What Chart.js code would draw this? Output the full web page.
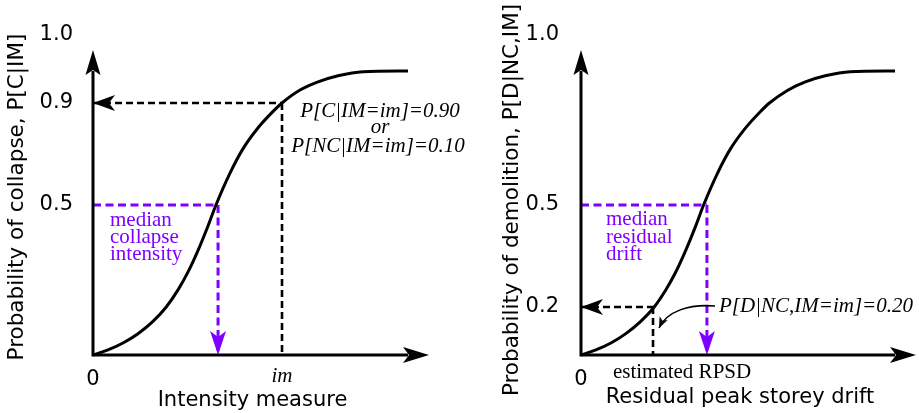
<!DOCTYPE html>
<html>
<head>
<meta charset="utf-8">
<script src="https://cdn.jsdelivr.net/npm/chart.js@4.4.1/dist/chart.umd.min.js"></script>
<style>
  html, body { margin: 0; padding: 0; background: #ffffff; }
  #wrap { position: relative; width: 919px; height: 413px; overflow: hidden; }
  canvas { position: absolute; top: 0; }
</style>
</head>
<body>
<div id="wrap">
  <canvas id="c2" width="459" height="413" style="left:460px; z-index:1"></canvas>
  <canvas id="c1" width="480" height="413" style="left:0px; z-index:2"></canvas>
</div>
<script>
// ---------------- data ----------------
const curveX = [0, 0.094, 0.188, 0.282, 0.376, 0.458, 0.533, 0.596, 0.658, 0.721, 0.771, 0.859, 0.940, 1.034, 1.129, 1.185, 1.298, 1.411, 1.536, 1.693, 1.975];
const collapseProb = [0, 0.017, 0.040, 0.071, 0.112, 0.159, 0.217, 0.277, 0.348, 0.430, 0.500, 0.625, 0.720, 0.802, 0.867, 0.900, 0.919, 0.931, 0.940, 0.946, 0.947];
const demolitionProb = [0, 0.021, 0.050, 0.089, 0.140, 0.198, 0.250, 0.303, 0.366, 0.438, 0.500, 0.594, 0.665, 0.726, 0.775, 0.800, 0.837, 0.862, 0.880, 0.892, 0.894];

const collapseYTicks = [0.5, 0.9, 1.0];
const collapseYLabels = ['0.5', '0.9', '1.0'];
const demolitionYTicks = [0.2, 0.5, 1.0];
const demolitionYLabels = ['0.2', '0.5', '1.0'];

const imValue = 1.185;        // intensity "im"
const pCollapseAtIM = 0.9;
const medianIM = 0.784;       // median collapse intensity
const collapseXTicks = [0, imValue];
const collapseXLabels = ['0', 'im'];

const estRPSD = 0.453;        // estimated residual drift
const pDemolition = 0.2;
const medianRPSD = 0.792;     // median residual drift
const demolitionXTicks = [0];
const demolitionXLabels = ['0'];

// ---------------- styling / layout ----------------
const PURPLE = '#8000ff';
const SANS = '"DejaVu Sans", Verdana, sans-serif';
const SERIF = '"Liberation Serif", "Times New Roman", serif';

// schematic (non-uniform) probability axis: value -> fraction of axis height
const BREAKS = {
  c1: { values: [0, 0.5, 0.9, 1.0], fractions: [0, 0.46875, 0.7875, 1] },
  c2: { values: [0, 0.2, 0.5, 1.0], fractions: [0, 0.15, 0.46875, 1] }
};

class PiecewiseScale extends Chart.LinearScale {
  _bp() { return BREAKS[this.chart.canvas.id]; }
  _toFrac(v) {
    const { values: V, fractions: F } = this._bp();
    let i = 1;
    while (i < V.length - 1 && v > V[i]) i++;
    return F[i - 1] + (v - V[i - 1]) * (F[i] - F[i - 1]) / (V[i] - V[i - 1]);
  }
  _fromFrac(f) {
    const { values: V, fractions: F } = this._bp();
    let i = 1;
    while (i < F.length - 1 && f > F[i]) i++;
    return V[i - 1] + (f - F[i - 1]) * (V[i] - V[i - 1]) / (F[i] - F[i - 1]);
  }
  getPixelForValue(v) {
    if (v === null || v === undefined || isNaN(v)) return NaN;
    return this.getPixelForDecimal(this._toFrac(v));
  }
  getValueForPixel(p) {
    return this._fromFrac(this.getDecimalForPixel(p));
  }
}
PiecewiseScale.id = 'piecewise';
PiecewiseScale.defaults = Chart.LinearScale.defaults;
Chart.register(PiecewiseScale);

Chart.defaults.font.family = SANS;
Chart.defaults.color = '#000';

function arrowHead(ctx, tx, ty, ang, L, W, N, color) {
  const c = Math.cos(ang), s = Math.sin(ang);
  const bx = tx - L * c, by = ty - L * s;
  const nx = tx - (L - N) * c, ny = ty - (L - N) * s;
  ctx.beginPath();
  ctx.moveTo(tx, ty);
  ctx.lineTo(bx - W * s, by + W * c);
  ctx.lineTo(nx, ny);
  ctx.lineTo(bx + W * s, by - W * c);
  ctx.closePath();
  ctx.fillStyle = color;
  ctx.fill();
}

const DIAGRAM = {
  c1: {
    yTitle: { text: 'Probability of collapse, P[C|IM]', x: 17, y: 197 },
    heads: [
      { from: { x: imValue, y: pCollapseAtIM }, to: { x: 0, y: pCollapseAtIM }, color: '#000', L: 22, W: 8, N: 6 },
      { from: { x: medianIM, y: 0.5 }, to: { x: medianIM, y: 0 }, color: PURPLE, L: 24, W: 8, N: 6 }
    ],
    texts: [
      { text: 'P[C|IM=im]=0.90', at: { x: imValue, y: pCollapseAtIM }, dx: 98, dy: 14, font: 'italic 21px ' + SERIF, color: '#000', align: 'center' },
      { text: 'or', at: { x: imValue, y: pCollapseAtIM }, dx: 98, dy: 30, font: 'italic 21px ' + SERIF, color: '#000', align: 'center' },
      { text: 'P[NC|IM=im]=0.10', at: { x: imValue, y: pCollapseAtIM }, dx: 96, dy: 49, font: 'italic 21px ' + SERIF, color: '#000', align: 'center' },
      { text: 'median', at: { x: 0, y: 0.5 }, dx: 17, dy: 21, font: '21px ' + SERIF, color: PURPLE, align: 'left' },
      { text: 'collapse', at: { x: 0, y: 0.5 }, dx: 17, dy: 38, font: '21px ' + SERIF, color: PURPLE, align: 'left' },
      { text: 'intensity', at: { x: 0, y: 0.5 }, dx: 17, dy: 55, font: '21px ' + SERIF, color: PURPLE, align: 'left' }
    ],
    curved: null
  },
  c2: {
    yTitle: { text: 'Probability of demolition, P[D|NC,IM]', x: 52, y: 200 },
    heads: [
      { from: { x: estRPSD, y: pDemolition }, to: { x: 0, y: pDemolition }, color: '#000', L: 22, W: 8, N: 6 },
      { from: { x: medianRPSD, y: 0.5 }, to: { x: medianRPSD, y: 0 }, color: PURPLE, L: 24, W: 8, N: 6 }
    ],
    texts: [
      { text: 'P[D|NC,IM=im]=0.20', at: { x: estRPSD, y: pDemolition }, dx: 66, dy: 5, font: 'italic 21px ' + SERIF, color: '#000', align: 'left' },
      { text: 'estimated RPSD', at: { x: estRPSD, y: 0 }, dx: 29, dy: 23, font: '21px ' + SERIF, color: '#000', align: 'center' },
      { text: 'median', at: { x: 0, y: 0.5 }, dx: 25, dy: 20, font: '21px ' + SERIF, color: PURPLE, align: 'left' },
      { text: 'residual', at: { x: 0, y: 0.5 }, dx: 25, dy: 37.5, font: '21px ' + SERIF, color: PURPLE, align: 'left' },
      { text: 'drift', at: { x: 0, y: 0.5 }, dx: 25, dy: 55, font: '21px ' + SERIF, color: PURPLE, align: 'left' }
    ],
    curved: { at: { x: estRPSD, y: pDemolition }, p0: [62, -1], c1: [36, -3], c2: [14, 4], p1: [6, 21] }
  }
};

const diagramPlugin = {
  id: 'diagram',
  afterDatasetsDraw(chart) {
    const d = DIAGRAM[chart.canvas.id];
    const { ctx, chartArea: a } = chart;
    const xs = chart.scales.x, ys = chart.scales.y;
    const px = v => xs.getPixelForValue(v), py = v => ys.getPixelForValue(v);
    ctx.save();

    // arrowheads at the ends of the dashed guide lines
    d.heads.forEach(h => {
      const tx = px(h.to.x), ty = py(h.to.y), fx = px(h.from.x), fy = py(h.from.y);
      arrowHead(ctx, tx, ty, Math.atan2(ty - fy, tx - fx), h.L, h.W, h.N, h.color);
    });

    // axes with arrows
    const ox = px(0), oy = py(0);
    const yTip = a.top + 15, xTip = a.right + 17;
    ctx.strokeStyle = '#000';
    ctx.lineWidth = 3;
    ctx.lineJoin = 'miter';
    ctx.lineCap = 'butt';
    ctx.setLineDash([]);
    ctx.beginPath();
    ctx.moveTo(ox, yTip + 21);
    ctx.lineTo(ox, oy);
    ctx.lineTo(xTip - 21, oy);
    ctx.stroke();
    arrowHead(ctx, ox, yTip, -Math.PI / 2, 25, 7.5, 5, '#000');
    arrowHead(ctx, xTip, oy, 0, 26, 8, 6, '#000');

    // rotated y-axis title
    ctx.save();
    ctx.translate(d.yTitle.x, d.yTitle.y);
    ctx.rotate(-Math.PI / 2);
    ctx.font = '21.5px ' + SANS;
    ctx.fillStyle = '#000';
    ctx.textAlign = 'center';
    ctx.textBaseline = 'middle';
    ctx.fillText(d.yTitle.text, 0, 0);
    ctx.restore();

    // annotations
    d.texts.forEach(t => {
      ctx.font = t.font;
      ctx.fillStyle = t.color;
      ctx.textAlign = t.align;
      ctx.textBaseline = 'alphabetic';
      ctx.fillText(t.text, px(t.at.x) + t.dx, py(t.at.y) + t.dy);
    });

    // curved pointer arrow
    if (d.curved) {
      const c = d.curved, bx = px(c.at.x), by = py(c.at.y);
      ctx.beginPath();
      ctx.moveTo(bx + c.p0[0], by + c.p0[1]);
      ctx.bezierCurveTo(bx + c.c1[0], by + c.c1[1], bx + c.c2[0], by + c.c2[1], bx + c.p1[0], by + c.p1[1]);
      ctx.lineWidth = 1.6;
      ctx.strokeStyle = '#000';
      ctx.stroke();
      const ang = Math.atan2(c.p1[1] - c.c2[1], c.p1[0] - c.c2[0]);
      arrowHead(ctx, bx + c.p1[0], by + c.p1[1], ang, 11, 4.5, 3, '#000');
    }
    ctx.restore();
  }
};

function guide(x1, y1, x2, y2, color, width, dash) {
  return {
    data: [{ x: x1, y: y1 }, { x: x2, y: y2 }],
    borderColor: color, borderWidth: width, borderDash: dash,
    pointRadius: 0, fill: false, tension: 0, order: 1, clip: false
  };
}

function makeChart(id, probs, yTicks, yLabels, xTicks, xLabels, xTickFonts, guides, xTitle, opts) {
  return new Chart(document.getElementById(id), {
    type: 'line',
    data: {
      datasets: [
        {
          data: curveX.map((x, i) => ({ x: x, y: probs[i] })),
          borderColor: '#000', borderWidth: 3, pointRadius: 0, fill: false,
          cubicInterpolationMode: 'monotone', order: 0, clip: false
        }
      ].concat(guides)
    },
    options: {
      responsive: false, animation: false, events: [],
      devicePixelRatio: 1,
      layout: { padding: { left: 0, top: 35, right: opts.padRight, bottom: 0 } },
      plugins: { legend: { display: false }, tooltip: { enabled: false } },
      scales: {
        x: {
          type: 'linear', min: 0, max: 2,
          grid: { display: false }, border: { display: false },
          afterBuildTicks: s => { s.ticks = xTicks.map(v => ({ value: v })); },
          afterFit: s => { s.height = 58; },
          ticks: {
            padding: 4, maxRotation: 0, autoSkip: false,
            callback: (v, i) => xLabels[i],
            font: c => xTickFonts[c.index] || xTickFonts[0]
          },
          title: { display: true, text: xTitle, font: { size: 21, family: SANS }, padding: { top: 0, bottom: opts.xTitlePad } }
        },
        y: {
          type: 'piecewise', min: 0, max: 1,
          grid: { display: false }, border: { display: false },
          afterBuildTicks: s => { s.ticks = yTicks.map(v => ({ value: v })); },
          afterFit: s => { s.width = opts.yWidth; },
          ticks: { padding: opts.yTickPad, callback: (v, i) => yLabels[i], font: { size: 21, family: SANS } }
        }
      }
    },
    plugins: [diagramPlugin]
  });
}

const sansTick = { size: 21, family: SANS };
const serifItalicTick = { size: 21, family: SERIF, style: 'italic', lineHeight: 0.9 };

makeChart('c1', collapseProb, collapseYTicks, collapseYLabels, collapseXTicks, collapseXLabels,
  [sansTick, serifItalicTick],
  [
    guide(0, pCollapseAtIM, imValue, pCollapseAtIM, '#000', 2.6, [7, 4]),
    guide(imValue, pCollapseAtIM, imValue, 0, '#000', 2.6, [7, 4]),
    guide(0, 0.5, medianIM, 0.5, PURPLE, 3, [8, 4.5]),
    guide(medianIM, 0.5, medianIM, 0, PURPLE, 3, [8, 4.5])
  ],
  'Intensity measure', { padRight: 68, yWidth: 93, yTickPad: 12, xTitlePad: 0 });

makeChart('c2', demolitionProb, demolitionYTicks, demolitionYLabels, demolitionXTicks, demolitionXLabels,
  [sansTick],
  [
    guide(0, pDemolition, estRPSD, pDemolition, '#000', 2.6, [7, 4]),
    guide(estRPSD, pDemolition, estRPSD, 0, '#000', 2.6, [7, 4]),
    guide(0, 0.5, medianRPSD, 0.5, PURPLE, 3, [8, 4.5]),
    guide(medianRPSD, 0.5, medianRPSD, 0, PURPLE, 3, [8, 4.5])
  ],
  'Residual peak storey drift', { padRight: 20, yWidth: 121, yTickPad: 14, xTitlePad: 3 });
</script>
</body>
</html>
